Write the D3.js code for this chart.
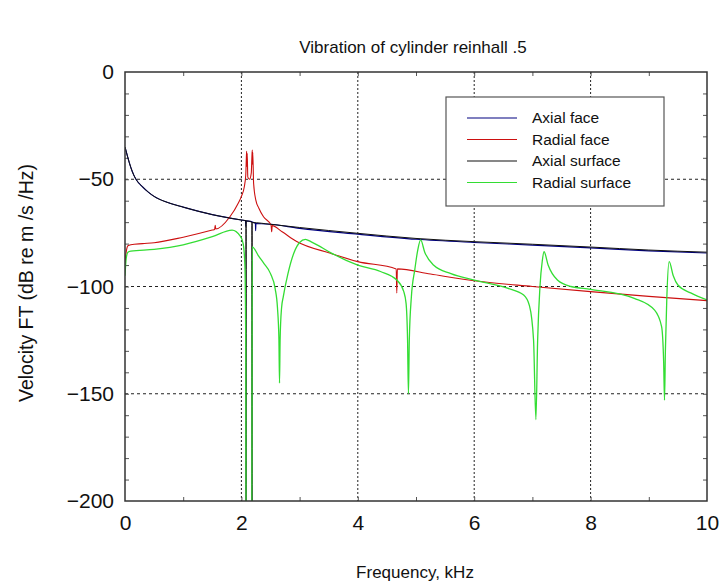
<!DOCTYPE html>
<html>
<head>
<meta charset="utf-8">
<script src="https://cdn.jsdelivr.net/npm/d3@7"></script>
<style>
  body { margin: 0; background: #fff; }
  text { font-family: 'Liberation Sans', Arial, sans-serif; fill: #111; }
</style>
</head>
<body>
<div id="chart"></div>
<script>
// data (frequency kHz, velocity dB)
let seriesNames = ['Axial face', 'Radial face', 'Axial surface', 'Radial surface']
let seriesColors = ['#000080', '#cc1010', '#111111', '#33dd33']

let axFaceF = [0, 0.025, 0.05, 0.1, 0.15, 0.2, 0.3, 0.4, 0.5, 0.75, 1, 1.5, 2, 2.07, 2.075, 2.08, 2.24, 2.245, 2.25, 2.5, 3, 4, 5, 6, 7, 8, 9, 10]
let axFaceV = [-35, -37.5, -40, -44.5, -48, -50.5, -53.5, -56, -58, -61, -63, -66.5, -69, -69.3, -72, -69.4, -70.5, -74, -70.6, -71, -72.9, -75.6, -78, -79.5, -80.7, -82, -83.4, -84.4]

let radFaceF = [0, 0.01, 0.02, 0.05, 0.1, 0.3, 0.5, 1, 1.5, 1.54, 1.55, 1.56, 1.8, 1.95, 2.0, 2.05, 2.075, 2.085, 2.09, 2.095, 2.1, 2.11, 2.14, 2.17, 2.18, 2.187, 2.19, 2.195, 2.21, 2.25, 2.3, 2.38, 2.51, 2.52, 2.53, 2.7, 2.95, 3.53, 4.0, 4.66, 4.67, 4.68, 5.25, 6, 7, 8, 9, 10]
let radFaceV = [-91, -86, -84, -81, -80.5, -80, -79.6, -77, -73.7, -73.4, -71.5, -73.2, -67.6, -61, -58, -53.5, -48, -40, -37, -44, -38, -49, -50, -47, -40, -36.4, -43, -37.5, -52, -60, -63.5, -67.5, -71.4, -74.5, -71.6, -74.5, -79, -84.5, -88.4, -91.8, -103, -91.8, -94.2, -97.3, -100, -102.4, -104.6, -106.6]

let axSurfF = [0, 0.025, 0.05, 0.1, 0.15, 0.2, 0.3, 0.4, 0.5, 0.75, 1, 1.5, 2, 2.078, 2.08, 2.082, 2.18, 2.1825, 2.185, 2.5, 3, 4, 5, 6, 7, 8, 9, 10]
let axSurfV = [-35, -37.5, -40, -44.5, -48, -50.5, -53.5, -56, -58, -61, -63, -66.5, -69, -69.3, -215, -69.4, -70, -215, -70.2, -71, -72.5, -75.2, -77.6, -79.1, -80.3, -81.6, -83, -84]

let radSurfF = [0, 0.02, 0.05, 0.1, 0.5, 1, 1.5, 1.84, 1.98, 2.03, 2.06, 2.075, 2.08, 2.18, 2.185, 2.3, 2.38, 2.5, 2.58, 2.62, 2.645, 2.655, 2.665, 2.69, 2.72, 2.8, 2.9, 3.0, 3.1, 3.2, 3.3, 3.53, 4.0, 4.39, 4.67, 4.79, 4.83, 4.855, 4.87, 4.885, 4.92, 4.98, 5.03, 5.08, 5.15, 5.3, 5.6, 6.0, 6.57, 6.85, 6.95, 7.02, 7.06, 7.09, 7.13, 7.17, 7.2, 7.27, 7.43, 7.66, 8.0, 8.75, 9.1, 9.22, 9.255, 9.27, 9.285, 9.31, 9.35, 9.42, 9.5, 9.72, 10]
let radSurfV = [-95, -87, -84, -83.5, -82.7, -80.6, -76.8, -73.7, -76.5, -80, -90, -130, -215, -215, -81.5, -86, -89, -94, -101, -110, -125, -145, -125, -110, -104.7, -94, -84.5, -79.5, -78, -79.2, -80.6, -84.2, -90, -93, -97, -102.4, -108, -125, -150, -125, -105, -92, -83, -78.3, -84, -90, -94, -97, -100.8, -104, -109, -125, -162, -125, -100, -88, -83.8, -90, -97, -100, -101.3, -105.5, -111, -118.7, -135, -153, -130, -105, -88.4, -95, -99.3, -103, -106.3]

let xTicks = [0, 2, 4, 6, 8, 10]
let yTicks = [0, -50, -100, -150, -200]

let w = 724, h = 585
let margin = {top: 72, right: 17, bottom: 84, left: 125}

let svg = d3.select('#chart').append('svg').attr('width', w).attr('height', h)

// scales
let xScale = d3.scaleLinear().domain([0, 10]).range([margin.left, w - margin.right])
let yScale = d3.scaleLinear().domain([-200, 0]).range([h - margin.bottom, margin.top])

svg.append('clipPath').attr('id', 'plot-clip')
  .append('rect')
  .attr('x', margin.left).attr('y', margin.top)
  .attr('width', w - margin.left - margin.right)
  .attr('height', h - margin.top - margin.bottom)

// grid
let grid = svg.append('g').classed('grid', true)
grid.selectAll('line.gx').data(xTicks.slice(1, -1)).enter().append('line')
  .attr('x1', d => xScale(d)).attr('x2', d => xScale(d))
  .attr('y1', margin.top).attr('y2', h - margin.bottom)
  .attr('stroke', '#222').attr('stroke-dasharray', '2,2')
grid.selectAll('line.gy').data(yTicks.slice(1, -1)).enter().append('line')
  .attr('y1', d => yScale(d)).attr('y2', d => yScale(d))
  .attr('x1', margin.left).attr('x2', w - margin.right)
  .attr('stroke', '#222').attr('stroke-dasharray', '3,3')

// minor inside ticks
let minorY = d3.range(-190, 0, 10)
let minorX = d3.range(1, 10, 1)
let styleMinor = g => { g.select('.domain').remove(); g.selectAll('line').attr('stroke', '#555') }
svg.append('g').attr('transform', `translate(${margin.left},0)`)
  .call(d3.axisLeft(yScale).tickValues(minorY).tickSize(-4).tickFormat('')).call(styleMinor)
svg.append('g').attr('transform', `translate(${w - margin.right},0)`)
  .call(d3.axisRight(yScale).tickValues(minorY).tickSize(-4).tickFormat('')).call(styleMinor)
svg.append('g').attr('transform', `translate(0,${margin.top})`)
  .call(d3.axisTop(xScale).tickValues(minorX).tickSize(-4).tickFormat('')).call(styleMinor)
svg.append('g').attr('transform', `translate(0,${h - margin.bottom})`)
  .call(d3.axisBottom(xScale).tickValues(minorX).tickSize(-4).tickFormat('')).call(styleMinor)

// lines
let curves = [[axFaceF, axFaceV], [radFaceF, radFaceV], [axSurfF, axSurfV], [radSurfF, radSurfV]]
let widths = [1.1, 1.1, 1, 1.3]
let line = d3.line().x(d => xScale(d[0])).y(d => yScale(d[1])).curve(d3.curveMonotoneX)
let lineG = svg.append('g').attr('clip-path', 'url(#plot-clip)')
curves.forEach((c, i) => {
  let pts = c[0].map((f, k) => [f, c[1][k]])
  lineG.append('path').attr('d', line(pts))
    .attr('fill', 'none').attr('stroke', seriesColors[i])
    .attr('stroke-width', widths[i])
})

// frame
svg.append('rect')
  .attr('x', margin.left).attr('y', margin.top)
  .attr('width', w - margin.left - margin.right)
  .attr('height', h - margin.top - margin.bottom)
  .attr('fill', 'none').attr('stroke', '#333').attr('stroke-width', 1.5)

// axis labels
let xAxisDom = svg.append('g').attr('transform', `translate(0,${h - margin.bottom})`)
  .call(d3.axisBottom(xScale).tickValues(xTicks).tickSize(0).tickPadding(14))
let yAxisDom = svg.append('g').attr('transform', `translate(${margin.left},0)`)
  .call(d3.axisLeft(yScale).tickValues(yTicks).tickSize(0).tickPadding(11))
;[xAxisDom, yAxisDom].forEach(a => {
  a.select('.domain').remove()
  a.selectAll('text').style('font-size', '21px').style('font-family', "'Liberation Sans', Arial, sans-serif").attr('fill', '#111')
})

svg.append('text').text('Vibration of cylinder reinhall .5')
  .attr('x', 413).attr('y', 53).attr('text-anchor', 'middle').style('font-size', '17px')
svg.append('text').text('Frequency, kHz')
  .attr('x', 415).attr('y', 578).attr('text-anchor', 'middle').style('font-size', '17px')
svg.append('text').text('Velocity FT (dB re m /s /Hz)')
  .attr('transform', 'translate(33,283) rotate(-90)')
  .attr('text-anchor', 'middle').style('font-size', '19.5px')

// legend
let legend = svg.append('g').attr('transform', 'translate(446,97)')
legend.append('rect').attr('width', 218).attr('height', 109)
  .attr('fill', '#fff').attr('stroke', '#555').attr('stroke-width', 1.2)
seriesNames.forEach((name, i) => {
  let yy = 21 + i * 21.5
  legend.append('line').attr('x1', 21).attr('x2', 71).attr('y1', yy).attr('y2', yy)
    .attr('stroke', seriesColors[i]).attr('stroke-width', 1.1)
  legend.append('text').text(name).attr('x', 86).attr('y', yy).attr('dy', '0.35em')
    .style('font-size', '15.5px')
})
</script>
</body>
</html>
